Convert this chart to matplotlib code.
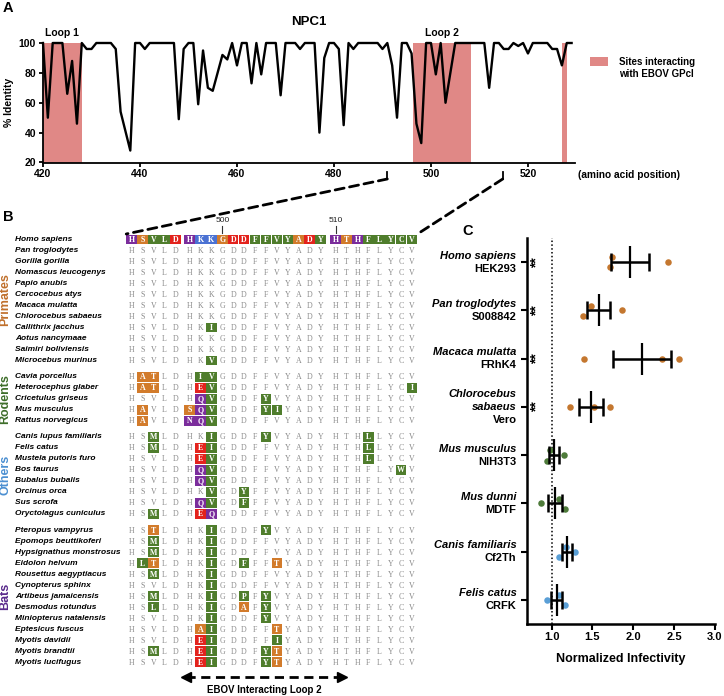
import numpy as np
import matplotlib
matplotlib.use('Agg')
from matplotlib import pyplot as plt
from matplotlib.patches import Rectangle, ConnectionPatch

plt.rcParams['font.family'] = ['Liberation Sans', 'DejaVu Sans']

W, H = 724, 696

# ---------------- panel A data: NPC1 % identity per residue
aa_position = np.arange(420, 530)
identity = [100, 50, 100, 100, 100, 66, 88, 46, 100, 96, 96, 100, 100, 100, 100, 96, 54, 41, 28, 100,
            100, 96, 100, 100, 100, 100, 100, 100, 49, 96, 100, 100, 59, 95, 70, 68, 80, 92, 89, 100,
            85, 100, 100, 73, 100, 79, 100, 100, 100, 65, 100, 100, 100, 96, 100, 100, 100, 40, 90, 100,
            100, 96, 45, 100, 96, 100, 100, 100, 100, 100, 96, 100, 85, 50, 100, 100, 93, 46, 33, 100,
            100, 79, 100, 60, 80, 100, 100, 100, 100, 100, 100, 100, 70, 100, 100, 96, 96, 100, 98, 100,
            93, 100, 100, 100, 100, 96, 96, 85, 100, 100]
site_start = [420, 496.3, 527]
site_end = [428, 508.2, 528]
loop_names = ['Loop 1', 'Loop 2']
zoom_from, zoom_to = 491, 514.8

# ---------------- panel B data: alignment
species = ['Homo sapiens', 'Pan troglodytes', 'Gorilla gorilla', 'Nomascus leucogenys', 'Papio anubis',
           'Cercocebus atys', 'Macaca mulatta', 'Chlorocebus sabaeus', 'Callithrix jacchus',
           'Aotus nancymaae', 'Saimiri boliviensis', 'Microcebus murinus',
           'Cavia porcellus', 'Heterocephus glaber', 'Cricetulus griseus', 'Mus musculus', 'Rattus norvegicus',
           'Canis lupus familiaris', 'Felis catus', 'Mustela putoris furo', 'Bos taurus', 'Bubalus bubalis',
           'Orcinus orca', 'Sus scrofa', 'Oryctolagus cuniculus',
           'Pteropus vampyrus', 'Epomops beuttikoferi', 'Hypsignathus monstrosus', 'Eidolon helvum',
           'Rousettus aegyptiacus', 'Cynopterus sphinx', 'Artibeus jamaicensis', 'Desmodus rotundus',
           'Miniopterus natalensis', 'Eptesicus fuscus', 'Myotis davidii', 'Myotis brandtii', 'Myotis lucifugus']
sequences = ['HSVLDHKKGDDFFVYADYHTHFLYCV', 'HSVLDHKKGDDFFVYADYHTHFLYCV', 'HSVLDHKKGDDFFVYADYHTHFLYCV',
             'HSVLDHKKGDDFFVYADYHTHFLYCV', 'HSVLDHKKGDDFFVYADYHTHFLYCV', 'HSVLDHKKGDDFFVYADYHTHFLYCV',
             'HSVLDHKKGDDFFVYADYHTHFLYCV', 'HSVLDHKKGDDFFVYADYHTHFLYCV', 'HSVLDHKIGDDFFVYADYHTHFLYCV',
             'HSVLDHKKGDDFFVYADYHTHFLYCV', 'HSVLDHKKGDDFFVYADYHTHFLYCV', 'HSVLDHKVGDDFFVYADYHTHFLYCV',
             'HATLDHIVGDDFFVYADYHTHFLYCV', 'HATLDHEVGDDFFVYADYHTHFLYCI', 'HSVLDHQVGDDFYVYADYHTHFLYCV',
             'HAVLDSQVGDDFYIYADYHTHFLYCV', 'HAVLDNQVGDDFFVYADYHTHFLYCV',
             'HSMLDHKIGDDFYVYADYHTHLLYCV', 'HSMLDHEIGDDFFVYADYHTHLLYCV', 'HSVLDHEVGDDFFVYADYHTHLLYCV',
             'HSVLDHQVGDDFFVYADYHTHFLYWV', 'HSVLDHQVGDDFFVYADYHTHFLYCV', 'HSVLDHKVGDYFFVYADYHTHFLYCV',
             'HSVLDHQVGDFFFVYADYHTHFLYCV', 'HSMLDHEQGDDFFVYADYHTHFLYCV',
             'HSTLDHKIGDDFYVYADYHTHFLYCV', 'HSMLDHKIGDDFFVYADYHTHFLYCV', 'HSMLDHKIGDDFFVYADYHTHFLYCV',
             'HLTLDHKIGDFFFTYADYHTHFLYCV', 'HSMLDHKIGDDFFVYADYHTHFLYCV', 'HSVLDHKIGDDFFVYADYHTHFLYCV',
             'HSMLDHKIGDPFYVYADYHTHFLYCV', 'HSLLDHKIGDAFYVYADYHTHFLYCV', 'HSVLDHKIGDDFYVYADYHTHFLYCV',
             'HSVLDHAIGDDFFTYADYHTHFLYCV', 'HSVLDHEIGDDFFIYADYHTHFLYCV', 'HSMLDHEIGDDFYTYADYHTHFLYCV',
             'HSVLDHEIGDDFYTYADYHTHFLYCV']
groups = ['Primates', 'Rodents', 'Others', 'Bats']
group_size = [12, 5, 8, 13]
group_colors = ['#c0702c', '#3e6e2a', '#4b8fd1', '#5a2a8c']
block_len = [5, 13, 8]
numbered_cols = [8, 18]
numbered_labels = ['500', '510']

residue_colors = {}
for aa in 'VLFYIMCWP':
    residue_colors[aa] = '#4f7d2c'
for aa in 'STAG':
    residue_colors[aa] = '#d27b2b'
for aa in 'DE':
    residue_colors[aa] = '#e3231d'
for aa in 'HQN':
    residue_colors[aa] = '#7b2d9c'
for aa in 'KR':
    residue_colors[aa] = '#4b72d3'

# ---------------- panel C data: normalized infectivity
c_species = ['Homo sapiens', 'Pan troglodytes', 'Macaca mulatta', 'Chlorocebus\nsabaeus',
             'Mus musculus', 'Mus dunni', 'Canis familiaris', 'Felis catus']
c_cells = ['HEK293', 'S008842', 'FRhK4', 'Vero', 'NIH3T3', 'MDTF', 'Cf2Th', 'CRFK']
infectivity = [[1.74, 1.71, 2.42], [1.48, 1.39, 1.86], [1.40, 2.35, 2.56], [1.22, 1.52, 1.72],
               [0.98, 1.15, 0.95], [0.87, 1.09, 1.16], [1.18, 1.29, 1.09], [0.94, 1.09, 1.17]]
jitter = [[-0.1, 0.11, 0], [-0.1, 0.11, 0], [0, 0, 0], [0, 0, 0],
          [-0.1, 0, 0.12], [0, -0.09, 0.12], [-0.09, 0, 0.12], [0, -0.1, 0.1]]
point_colors = ['#c4772f'] * 4 + ['#4e7b3a'] * 2 + ['#5a9fd6'] * 2
signif = ['**', '**', '**', '**', '', '', '', '']

site_color = '#e08886'
fig = plt.figure(figsize=(W / 100, H / 100), dpi=100)


def box(left, top, right, bottom):
    return [left / W, 1 - bottom / H, (right - left) / W, (bottom - top) / H]


# ================= A
axA = fig.add_axes(box(43, 43, 575, 162.5))
for s, e in zip(site_start, site_end):
    axA.axvspan(s, e, color=site_color, lw=0, zorder=1)
axA.plot(aa_position, identity, color='black', lw=1.7, zorder=3, clip_on=False)
axA.set_xlim(420, 529.7)
axA.set_ylim(20, 100)
axA.set_xticks(range(420, 521, 20))
axA.set_yticks(range(20, 101, 20))
axA.spines[['top', 'right']].set_visible(False)
for sp in ('left', 'bottom'):
    axA.spines[sp].set_linewidth(1.3)
axA.tick_params(length=3, width=1.3, labelsize=7.5, pad=2)
for lab in axA.get_xticklabels() + axA.get_yticklabels():
    lab.set_fontweight('bold')
axA.set_ylabel('% Identity', fontsize=7.5, fontweight='bold')
axA.yaxis.set_label_coords(-29 / 532, 0.5)
axA.text(0.5, 1 + 21 / 119.5, 'NPC1', transform=axA.transAxes, ha='center', va='center',
         fontsize=9.5, fontweight='bold')
for name, s, e in zip(loop_names, site_start, site_end):
    axA.text((s + e) / 2, 106.7, name, ha='center', va='center', fontsize=7.5,
             fontweight='bold', clip_on=False)
axA.text(1.006, -12.5 / 119.5, '(amino acid position)', transform=axA.transAxes,
         ha='left', va='center', fontsize=7.3, fontweight='bold')

fig.add_artist(Rectangle((590 / W, 1 - 66 / H), 18 / W, 9 / H, transform=fig.transFigure,
                         color=site_color, lw=0))
fig.text(619 / W, 1 - 68 / H, 'Sites interacting\nwith EBOV GPcl', ha='left', va='center',
         fontsize=7, fontweight='bold', linespacing=1.2)

# ================= B
axB = fig.add_axes(box(0, 200, 470, 696))
axB.set_xlim(-12.08, 31.04)
axB.set_ylim(41.5, -3.59)
axB.axis('off')

block_gap = [0, 0.32, 0.72]
col_x = []
k = 0
for b, n in enumerate(block_len):
    for j in range(n):
        col_x.append(k + block_gap[b])
        k += 1
row_y = []
k = 0
for g, n in enumerate(group_size):
    for j in range(n):
        row_y.append(k + 0.47 * g)
        k += 1

human = sequences[0]
for i, (name, seq) in enumerate(zip(species, sequences)):
    y = row_y[i]
    axB.text(-10.68, y, name, ha='left', va='center', fontsize=6, fontweight='bold',
             fontstyle='italic')
    for c, aa in enumerate(seq):
        x = col_x[c]
        if i == 0 or aa != human[c]:
            axB.add_patch(Rectangle((x - 0.48, y - 0.44), 0.96, 0.88, color=residue_colors[aa], lw=0))
            axB.text(x, y + 0.05, aa, ha='center', va='center', family=['Liberation Serif', 'DejaVu Serif'],
                     fontsize=5.7, fontweight='bold', color='white')
        else:
            axB.text(x, y + 0.05, aa, ha='center', va='center', family=['Liberation Serif', 'DejaVu Serif'],
                     fontsize=5.7, color='#8a8a8a')

start = 0
for name, n, col in zip(groups, group_size, group_colors):
    yc = (row_y[start] + row_y[start + n - 1]) / 2
    axB.text(-11.62, yc, name, rotation=90, ha='center', va='center', fontsize=9,
             fontweight='bold', color=col)
    start += n

for c, lab in zip(numbered_cols, numbered_labels):
    axB.plot([col_x[c], col_x[c]], [-1.25, -0.6], color='#333333', lw=0.8)
    axB.text(col_x[c], -1.75, lab, ha='center', va='center', fontsize=6, color='#222222')

arrow_y = row_y[-1] + 1.4
ax_l, ax_r = col_x[5] - 0.3, col_x[18] + 0.6
axB.plot([ax_l, ax_r], [arrow_y, arrow_y], color='black', lw=2, ls=(0, (3.3, 2)))
axB.plot([ax_l], [arrow_y], marker='<', ms=7, color='black', ls='none')
axB.plot([ax_r], [arrow_y], marker='>', ms=7, color='black', ls='none')
axB.text((ax_l + ax_r) / 2, arrow_y + 1.15, 'EBOV Interacting Loop 2', ha='center', va='center',
         fontsize=7, fontweight='bold')

# zoom lines A -> B
for xa, xb in [(zoom_from, col_x[0] - 0.5), (zoom_to, col_x[-1] + 0.5)]:
    axA.plot([xa, xa], [13.6, 8.96], color='black', lw=1.3, clip_on=False)
    con = ConnectionPatch(xyA=(xa, 8.96), coordsA=axA.transData, xyB=(xb, -0.5), coordsB=axB.transData,
                          color='black', lw=2, ls=(0, (3.3, 2)))
    fig.add_artist(con)

# ================= C
axC = fig.add_axes(box(527, 238, 715, 624))
rows = np.arange(len(c_cells))
axC.set_xlim(0.7, 3.0)
axC.set_ylim(7.5, -0.5)
axC.axvline(1.0, color='black', lw=1.1, ls=(0, (1, 1.5)), zorder=1)
means = []
sems = []
for r, vals in enumerate(infectivity):
    v = np.array(vals)
    means.append(v.mean())
    sems.append(v.std(ddof=1) / np.sqrt(len(v)))
    axC.scatter(v, r + np.array(jitter[r]), s=22, color=point_colors[r], lw=0, zorder=2)
axC.errorbar(means, rows, xerr=sems, fmt='none', ecolor='black', elinewidth=1.8, capsize=6.5,
             capthick=1.8, zorder=3)
axC.plot(means, rows, marker='|', ms=23, mew=1.6, ls='none', color='black', zorder=3)
for r, s in enumerate(signif):
    if s:
        axC.text(0.81, r, s, rotation=90, ha='center', va='center', fontsize=10, fontweight='bold')

axC.spines[['top', 'right']].set_visible(False)
for sp in ('left', 'bottom'):
    axC.spines[sp].set_linewidth(1.8)
axC.set_xticks([1.0, 1.5, 2.0, 2.5, 3.0], ['1.0', '1.5', '2.0', '2.5', '3.0'])
axC.set_yticks(rows, [''] * len(rows))
axC.tick_params(length=4, width=1.5, labelsize=8, pad=2)
for lab in axC.get_xticklabels():
    lab.set_fontweight('bold')
axC.set_xlabel('Normalized Infectivity', fontsize=9, fontweight='bold', labelpad=8)

ytr = axC.get_yaxis_transform()
for r, (sp_name, cell) in enumerate(zip(c_species, c_cells)):
    lines = sp_name.split('\n')
    n = len(lines) + 1
    for k, line in enumerate(lines + [cell]):
        off = (k - (n - 1) / 2) * 9.3
        axC.annotate(line, xy=(0, r), xycoords=ytr, xytext=(-7.5, -off), textcoords='offset points',
                     ha='right', va='center', fontsize=8, fontweight='bold',
                     fontstyle='italic' if k < len(lines) else 'normal')

fig.text(8 / W, 1 - 8 / H, 'A', ha='center', va='center', fontsize=10.5, fontweight='bold')
fig.text(8 / W, 1 - 217 / H, 'B', ha='center', va='center', fontsize=10.5, fontweight='bold')
fig.text(468 / W, 1 - 231 / H, 'C', ha='center', va='center', fontsize=10.5, fontweight='bold')

fig.savefig('out.png', dpi=100)
